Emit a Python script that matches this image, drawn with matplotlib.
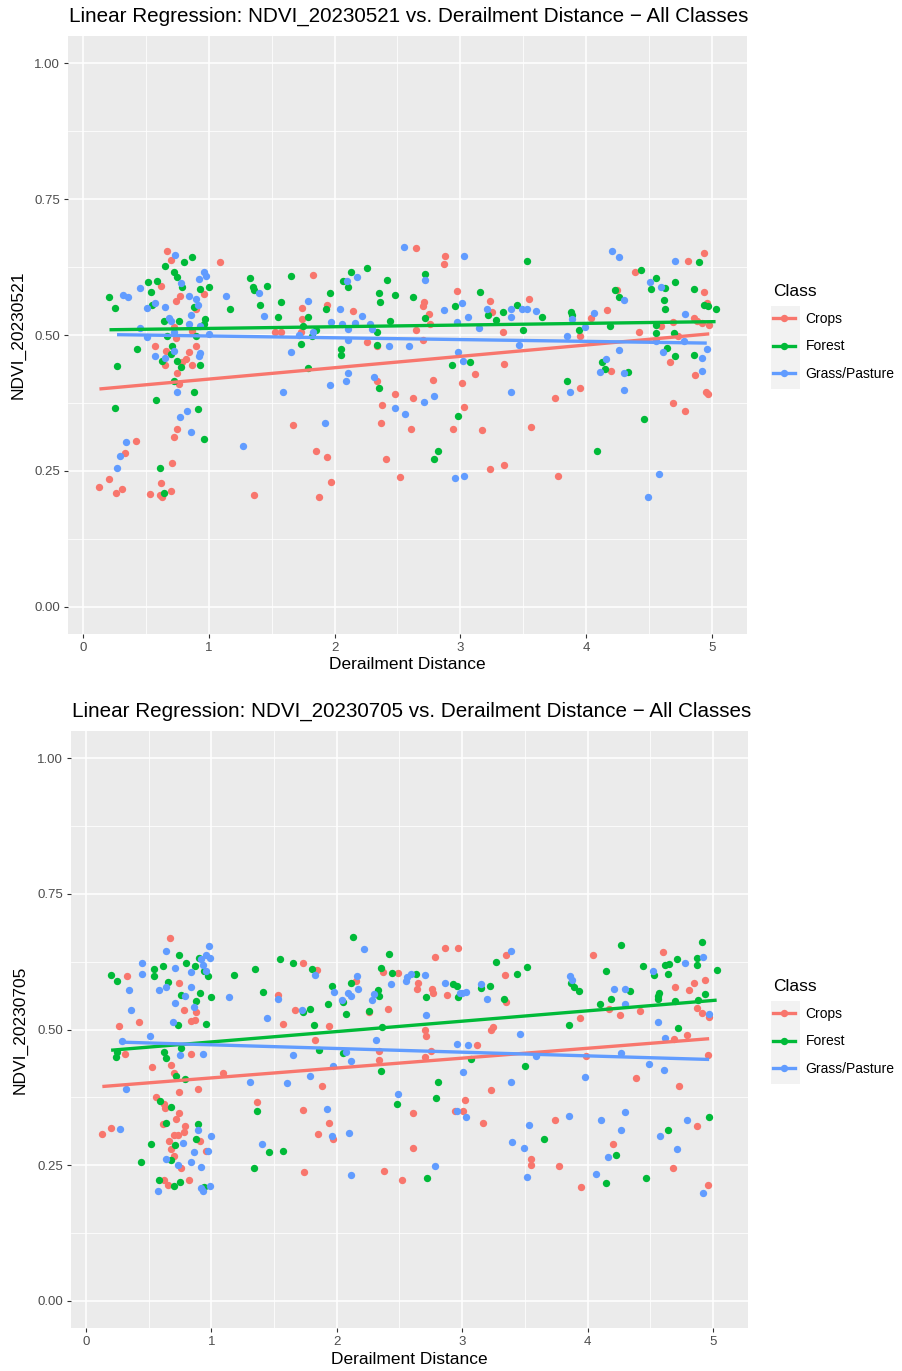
import matplotlib
matplotlib.use("Agg")
import matplotlib.pyplot as plt
import numpy as np
from matplotlib.lines import Line2D
from matplotlib.patches import Rectangle

plt.rcParams["font.family"] = ["Liberation Sans", "DejaVu Sans"]

classes = ["Crops", "Forest", "Grass/Pasture"]
colors = ["#F8766D", "#00BA38", "#619CFF"]

# (distance, NDVI) pairs
crops_0521 = [
    (0.67, 0.655), (0.70, 0.638), (1.09, 0.635), (0.62, 0.591), (0.77, 0.572), (0.74, 0.562),
    (0.96, 0.575), (0.90, 0.548), (0.72, 0.514), (0.87, 0.508), (0.74, 0.494), (0.57, 0.479),
    (0.66, 0.471), (0.84, 0.468), (0.90, 0.479), (0.82, 0.456), (0.65, 0.445), (0.79, 0.451),
    (0.87, 0.445), (0.75, 0.431), (0.76, 0.410), (0.75, 0.327), (0.72, 0.312), (0.42, 0.305),
    (0.33, 0.283), (0.71, 0.265), (0.21, 0.235), (0.13, 0.220), (0.31, 0.216), (0.26, 0.210),
    (0.53, 0.208), (0.62, 0.228), (0.61, 0.205), (0.70, 0.213), (0.63, 0.202),
    (1.83, 0.610), (1.74, 0.550), (1.94, 0.556), (1.74, 0.529), (1.57, 0.505), (1.53, 0.506),
    (1.73, 0.505), (2.15, 0.545), (2.26, 0.487), (2.34, 0.479), (2.34, 0.415), (2.48, 0.391),
    (2.62, 0.384), (2.38, 0.371), (2.37, 0.339), (2.61, 0.328), (1.67, 0.335), (1.85, 0.286),
    (1.94, 0.275), (2.41, 0.271), (1.97, 0.229), (2.52, 0.238), (1.36, 0.206), (1.88, 0.202),
    (2.65, 0.660), (2.88, 0.646), (2.87, 0.631), (2.97, 0.581), (2.71, 0.561), (2.70, 0.554),
    (2.75, 0.538), (2.76, 0.520), (2.65, 0.510), (2.70, 0.491), (3.24, 0.562), (3.25, 0.543),
    (3.55, 0.567), (3.34, 0.506), (3.35, 0.447), (3.12, 0.428), (3.01, 0.412), (2.78, 0.417),
    (3.03, 0.367), (2.94, 0.328), (3.17, 0.326), (3.56, 0.330), (3.75, 0.385), (3.95, 0.403),
    (3.24, 0.254), (3.35, 0.260), (3.78, 0.241), (3.95, 0.499),
    (4.94, 0.651), (4.81, 0.637), (4.39, 0.616), (4.25, 0.583), (4.94, 0.580), (4.17, 0.546),
    (4.04, 0.532), (4.96, 0.558), (4.86, 0.531), (4.88, 0.525), (4.98, 0.519), (4.92, 0.522),
    (4.69, 0.523), (4.60, 0.516), (4.73, 0.498), (4.42, 0.505), (4.67, 0.450), (4.20, 0.434),
    (4.87, 0.426), (4.95, 0.396), (4.97, 0.391), (4.69, 0.374), (4.79, 0.360),
]
forest_0521 = [
    (0.80, 0.635), (0.87, 0.643), (0.65, 0.627), (0.72, 0.615), (0.75, 0.606), (0.52, 0.598),
    (0.59, 0.600), (0.79, 0.589), (1.00, 0.589), (0.93, 0.585), (0.54, 0.580), (0.21, 0.569),
    (0.25, 0.550), (0.55, 0.555), (0.88, 0.551), (1.17, 0.548), (0.97, 0.529), (0.64, 0.525),
    (0.76, 0.525), (0.96, 0.520), (0.67, 0.499), (0.90, 0.498), (0.43, 0.474), (0.71, 0.480),
    (0.70, 0.465), (0.63, 0.453), (0.75, 0.452), (0.78, 0.442), (0.93, 0.445), (0.27, 0.443),
    (0.72, 0.415), (0.88, 0.395), (0.58, 0.380), (0.25, 0.366), (0.91, 0.363), (0.96, 0.309),
    (0.61, 0.256), (0.64, 0.210),
    (1.33, 0.605), (1.35, 0.589), (1.36, 0.583), (1.46, 0.591), (1.65, 0.609), (1.41, 0.555),
    (1.57, 0.561), (1.55, 0.534), (1.79, 0.534), (1.96, 0.578), (1.93, 0.547), (1.75, 0.517),
    (1.85, 0.509), (1.82, 0.498), (1.73, 0.483), (2.07, 0.599), (2.13, 0.615), (2.11, 0.588),
    (2.26, 0.624), (2.42, 0.602), (2.35, 0.577), (2.36, 0.561), (2.48, 0.573), (2.62, 0.569),
    (2.44, 0.525), (2.34, 0.505), (2.34, 0.482), (2.05, 0.475), (2.05, 0.464), (1.79, 0.439),
    (2.35, 0.402),
    (2.72, 0.613), (3.53, 0.636), (3.16, 0.580), (2.96, 0.554), (2.72, 0.532), (3.22, 0.536),
    (3.28, 0.527), (3.34, 0.542), (3.45, 0.556), (3.65, 0.533), (3.50, 0.509), (3.88, 0.542),
    (3.89, 0.537), (3.94, 0.510), (2.93, 0.444), (3.08, 0.450), (2.98, 0.351), (2.82, 0.287),
    (2.79, 0.271), (3.85, 0.415),
    (4.90, 0.635), (4.44, 0.619), (4.56, 0.605), (4.23, 0.583), (4.26, 0.569), (4.52, 0.585),
    (4.63, 0.587), (4.71, 0.597), (4.86, 0.585), (4.62, 0.564), (4.63, 0.547), (4.94, 0.555),
    (4.97, 0.553), (5.03, 0.548), (4.19, 0.517), (4.56, 0.518), (4.56, 0.504), (4.70, 0.504),
    (4.64, 0.476), (4.71, 0.462), (4.86, 0.463), (4.13, 0.450), (4.15, 0.438), (4.33, 0.432),
    (4.46, 0.346), (4.09, 0.287),
]
grass_0521 = [
    (0.73, 0.648), (0.96, 0.615), (0.98, 0.608), (0.92, 0.603), (0.78, 0.596), (0.45, 0.586),
    (0.32, 0.574), (0.36, 0.569), (1.14, 0.572), (0.84, 0.572), (0.90, 0.566), (0.57, 0.558),
    (0.51, 0.550), (0.65, 0.551), (0.91, 0.556), (0.86, 0.537), (0.68, 0.532), (0.70, 0.526),
    (0.84, 0.520), (0.93, 0.516), (0.45, 0.513), (0.72, 0.505), (0.51, 0.497), (1.00, 0.502),
    (0.72, 0.471), (0.57, 0.462), (0.65, 0.458), (0.93, 0.467), (0.92, 0.461), (0.75, 0.395),
    (0.83, 0.360), (0.77, 0.350), (0.86, 0.322), (0.34, 0.303), (0.29, 0.277), (0.27, 0.256),
    (1.40, 0.578), (1.44, 0.535), (1.79, 0.563), (2.10, 0.600), (2.18, 0.607), (2.04, 0.547),
    (2.22, 0.535), (1.97, 0.523), (2.06, 0.520), (2.16, 0.522), (2.28, 0.520), (2.11, 0.511),
    (2.30, 0.511), (1.83, 0.505), (1.72, 0.500), (2.11, 0.491), (1.65, 0.468), (2.43, 0.479),
    (2.59, 0.480), (2.11, 0.430), (2.09, 0.415), (1.96, 0.408), (2.31, 0.423), (1.59, 0.395),
    (2.48, 0.366), (2.56, 0.355), (1.92, 0.338), (1.27, 0.295), (2.55, 0.662),
    (3.03, 0.645), (2.72, 0.602), (3.01, 0.559), (2.87, 0.546), (3.06, 0.533), (3.21, 0.547),
    (3.40, 0.548), (3.40, 0.534), (3.49, 0.547), (3.53, 0.547), (3.60, 0.545), (3.15, 0.513),
    (2.97, 0.523), (3.89, 0.529), (3.99, 0.514), (3.85, 0.498), (3.47, 0.482), (2.98, 0.468),
    (3.02, 0.453), (3.40, 0.396), (2.79, 0.388), (2.71, 0.376), (3.87, 0.396), (2.96, 0.237),
    (3.03, 0.241),
    (4.21, 0.654), (4.26, 0.644), (4.71, 0.637), (4.51, 0.598), (4.60, 0.589), (4.30, 0.564),
    (4.06, 0.541), (4.79, 0.539), (4.78, 0.489), (4.56, 0.489), (4.96, 0.475), (4.26, 0.472),
    (4.61, 0.469), (4.92, 0.457), (4.16, 0.455), (4.11, 0.432), (4.30, 0.430), (4.92, 0.434),
    (4.30, 0.399), (4.58, 0.245), (4.49, 0.202),
]

# (distance, NDVI) pairs
crops_0705 = [
    (0.67, 0.669), (0.33, 0.598), (0.74, 0.585), (0.78, 0.536), (0.88, 0.532), (0.87, 0.518),
    (0.84, 0.516), (0.42, 0.514), (0.26, 0.506), (0.31, 0.454), (0.84, 0.454), (0.53, 0.431),
    (0.68, 0.434), (0.70, 0.419), (1.09, 0.419), (0.89, 0.391), (0.74, 0.384), (0.56, 0.375),
    (0.62, 0.363), (0.63, 0.356), (0.74, 0.346), (0.72, 0.336), (0.61, 0.326), (0.79, 0.322),
    (0.78, 0.311), (0.20, 0.319), (0.13, 0.307), (0.70, 0.305), (0.73, 0.306), (0.91, 0.295),
    (0.66, 0.294), (0.68, 0.280), (0.96, 0.277), (0.70, 0.266), (0.76, 0.245), (0.62, 0.223),
    (0.65, 0.214), (0.82, 0.223),
    (1.73, 0.623), (1.84, 0.610), (2.15, 0.589), (2.37, 0.606), (2.49, 0.605), (1.53, 0.563),
    (1.67, 0.536), (2.41, 0.537), (2.26, 0.532), (1.57, 0.511), (1.94, 0.506), (1.83, 0.481),
    (2.34, 0.461), (2.34, 0.444), (1.88, 0.395), (1.36, 0.366), (1.73, 0.351), (1.94, 0.328),
    (1.85, 0.308), (1.97, 0.298), (2.61, 0.347), (2.61, 0.282), (1.74, 0.238), (2.38, 0.240),
    (2.52, 0.222),
    (2.86, 0.651), (2.97, 0.651), (2.78, 0.634), (3.35, 0.637), (3.34, 0.600), (2.65, 0.586),
    (2.64, 0.574), (2.76, 0.574), (2.77, 0.567), (2.88, 0.563), (3.35, 0.550), (3.25, 0.504),
    (3.23, 0.500), (2.70, 0.499), (2.71, 0.488), (3.12, 0.472), (2.75, 0.460), (2.70, 0.450),
    (3.94, 0.522), (3.23, 0.388), (3.02, 0.370), (2.94, 0.349), (3.01, 0.349), (3.17, 0.327),
    (3.55, 0.261), (3.55, 0.251), (3.77, 0.248), (3.74, 0.333), (3.95, 0.209),
    (4.04, 0.637), (4.60, 0.643), (4.70, 0.578), (4.81, 0.572), (4.85, 0.586), (4.94, 0.592),
    (4.17, 0.537), (4.26, 0.526), (4.42, 0.534), (4.87, 0.539), (4.91, 0.531), (4.97, 0.523),
    (4.69, 0.483), (4.79, 0.489), (3.99, 0.451), (4.96, 0.453), (4.39, 0.411), (4.73, 0.395),
    (4.87, 0.323), (4.20, 0.289), (4.68, 0.245), (4.96, 0.213),
]
forest_0705 = [
    (0.74, 0.637), (0.80, 0.623), (0.90, 0.632), (0.87, 0.617), (0.61, 0.617), (0.54, 0.611),
    (0.54, 0.599), (0.20, 0.601), (0.25, 0.589), (0.65, 0.588), (0.94, 0.607), (0.97, 0.598),
    (1.18, 0.601), (0.91, 0.568), (0.76, 0.563), (1.00, 0.560), (0.88, 0.552), (0.73, 0.508),
    (0.96, 0.511), (0.24, 0.450), (0.25, 0.459), (0.62, 0.459), (0.64, 0.448), (0.76, 0.466),
    (0.72, 0.415), (0.79, 0.409), (0.59, 0.369), (0.68, 0.357), (0.64, 0.328), (0.89, 0.325),
    (0.88, 0.298), (0.71, 0.287), (0.52, 0.289), (0.68, 0.260), (0.44, 0.256), (0.58, 0.223),
    (0.75, 0.219), (0.70, 0.212), (0.94, 0.210),
    (2.13, 0.670), (1.55, 0.629), (1.65, 0.623), (1.80, 0.612), (1.35, 0.612), (2.42, 0.640),
    (2.35, 0.613), (2.44, 0.605), (1.96, 0.580), (2.11, 0.585), (1.41, 0.570), (2.33, 0.572),
    (2.34, 0.562), (1.93, 0.547), (2.05, 0.550), (1.79, 0.537), (1.73, 0.532), (2.26, 0.535),
    (2.07, 0.529), (1.82, 0.509), (2.36, 0.505), (1.86, 0.462), (2.05, 0.456), (2.35, 0.424),
    (1.36, 0.350), (2.48, 0.363), (1.46, 0.275), (1.57, 0.277), (1.34, 0.245),
    (3.27, 0.624), (3.52, 0.616), (3.44, 0.602), (2.63, 0.603), (2.93, 0.583), (2.96, 0.581),
    (2.97, 0.560), (3.15, 0.577), (3.22, 0.580), (3.33, 0.557), (2.71, 0.559), (3.87, 0.586),
    (3.89, 0.578), (3.93, 0.571), (3.85, 0.509), (3.07, 0.445), (3.50, 0.433), (2.81, 0.404),
    (2.79, 0.373), (3.65, 0.298), (2.72, 0.226),
    (4.27, 0.655), (4.91, 0.662), (4.15, 0.608), (4.44, 0.617), (4.53, 0.601), (4.62, 0.618),
    (4.65, 0.621), (4.71, 0.629), (4.87, 0.631), (4.87, 0.619), (4.64, 0.603), (5.03, 0.610),
    (4.34, 0.571), (4.57, 0.567), (4.56, 0.562), (4.56, 0.557), (4.94, 0.566), (4.19, 0.557),
    (4.10, 0.547), (4.70, 0.553), (4.88, 0.554), (4.72, 0.502), (4.97, 0.338), (4.64, 0.315),
    (4.23, 0.268), (4.15, 0.217), (4.47, 0.227),
]
grass_0705 = [
    (0.98, 0.654), (0.64, 0.645), (0.96, 0.637), (0.99, 0.632), (0.92, 0.629), (0.93, 0.618),
    (0.45, 0.623), (0.71, 0.613), (0.84, 0.606), (0.96, 0.607), (0.45, 0.603), (0.34, 0.572),
    (0.58, 0.572), (0.64, 0.578), (0.84, 0.578), (0.79, 0.561), (0.71, 0.548), (0.86, 0.542),
    (1.14, 0.560), (0.36, 0.536), (0.69, 0.513), (0.51, 0.488), (0.29, 0.479), (0.75, 0.453),
    (0.93, 0.455), (0.32, 0.390), (0.27, 0.316), (0.89, 0.315), (1.00, 0.304), (0.77, 0.290),
    (0.86, 0.274), (0.97, 0.276), (0.64, 0.261), (0.73, 0.251), (0.84, 0.256), (0.92, 0.247),
    (0.57, 0.203), (0.92, 0.208), (0.99, 0.212), (0.93, 0.203),
    (2.22, 0.648), (1.83, 0.600), (2.16, 0.599), (1.98, 0.570), (2.17, 0.575), (2.09, 0.567),
    (2.11, 0.562), (2.04, 0.555), (2.30, 0.566), (2.28, 0.555), (2.43, 0.583), (2.55, 0.589),
    (2.56, 0.596), (2.59, 0.602), (1.53, 0.557), (1.72, 0.536), (1.44, 0.522), (2.31, 0.480),
    (1.65, 0.453), (2.07, 0.459), (2.11, 0.442), (1.97, 0.433), (1.79, 0.414), (1.31, 0.403),
    (1.60, 0.401), (2.49, 0.381), (1.92, 0.354), (1.40, 0.289), (1.96, 0.304), (2.10, 0.309),
    (2.11, 0.232),
    (3.39, 0.645), (2.70, 0.600), (2.86, 0.586), (3.15, 0.583), (2.98, 0.568), (3.00, 0.567),
    (3.03, 0.570), (3.20, 0.557), (3.86, 0.598), (3.88, 0.592), (2.71, 0.526), (3.46, 0.491),
    (2.96, 0.473), (3.05, 0.471), (3.59, 0.452), (3.01, 0.422), (3.39, 0.404), (3.98, 0.413),
    (2.96, 0.349), (3.03, 0.338), (3.53, 0.324), (3.85, 0.340), (3.40, 0.292), (3.49, 0.281),
    (2.78, 0.248), (3.52, 0.229),
    (4.92, 0.634), (4.78, 0.623), (4.52, 0.607), (4.21, 0.574), (4.30, 0.574), (4.30, 0.547),
    (4.97, 0.529), (4.56, 0.513), (4.62, 0.485), (4.27, 0.457), (4.49, 0.437), (4.61, 0.425),
    (4.30, 0.348), (4.11, 0.333), (4.27, 0.314), (4.58, 0.304), (4.79, 0.333), (4.71, 0.280),
    (4.16, 0.265), (4.07, 0.233), (4.92, 0.199),
]

# regression lines: (intercept, slope) per class
fit_0521 = [(0.398, 0.0209), (0.509, 0.0031), (0.5015, -0.0033)]
fit_0705 = [(0.3926, 0.0182), (0.458, 0.0191), (0.4786, -0.0068)]

W, H = 903, 1371
fig = plt.figure(figsize=(W / 100, H / 100), dpi=100)


def fx(px):
    return px / W


def fy(py):
    return 1 - py / H


def draw_panel(box, title, ylabel, series, fits, title_y, ylabel_x, xlabel_y, legend_top):
    left, top, right, bottom = box
    ax = fig.add_axes([fx(left), fy(bottom), fx(right) - fx(left), fy(top) - fy(bottom)])
    ax.set_facecolor("#EBEBEB")
    for s in ax.spines.values():
        s.set_visible(False)

    for pts, c in zip(series, colors):
        arr = np.array(pts)
        ax.scatter(arr[:, 0], arr[:, 1], s=28, color=c, linewidths=0, zorder=3)
    for pts, (b0, b1), c in zip(series, fits, colors):
        arr = np.array(pts)
        xs = np.array([arr[:, 0].min(), arr[:, 0].max()])
        ax.plot(xs, b0 + b1 * xs, color=c, lw=2.4, zorder=4, solid_capstyle="butt")

    ax.set_xlim(-0.12, 5.28)
    ax.set_ylim(-0.05, 1.05)
    ax.set_xticks(range(6))
    ax.set_xticks(np.arange(0.5, 5.5, 1.0), minor=True)
    ax.set_yticks([0, 0.25, 0.5, 0.75, 1.0])
    ax.set_yticklabels(["0.00", "0.25", "0.50", "0.75", "1.00"])
    ax.set_yticks(np.arange(0.125, 1.0, 0.25), minor=True)
    ax.grid(which="major", color="white", lw=1.1, zorder=0)
    ax.grid(which="minor", color="white", lw=0.55, zorder=0)
    ax.set_axisbelow(True)
    ax.tick_params(which="major", length=3.2, width=0.8, color="#333333",
                   labelsize=9.5, labelcolor="#4D4D4D", pad=2.5)
    ax.tick_params(which="minor", length=0)

    fig.text(fx(left + 1), fy(title_y), title, fontsize=14.9, ha="left", va="center")
    fig.text(fx(ylabel_x), fy((top + bottom) / 2), ylabel, fontsize=12.5,
             rotation=90, ha="center", va="center")
    fig.text(fx((left + right) / 2), fy(xlabel_y), "Derailment Distance",
             fontsize=12.5, ha="center", va="center")

    # legend keys background
    fig.patches.append(Rectangle((fx(771), fy(legend_top + 105)), fx(29), fy(0) - fy(83),
                                 transform=fig.transFigure, facecolor="#F2F2F2",
                                 edgecolor="none", zorder=0))
    handles = [Line2D([], [], color=c, lw=2.4, marker="o", markersize=5.3,
                      markeredgewidth=0) for c in colors]
    fig.legend(handles, classes, loc="upper left",
               bbox_to_anchor=(fx(773), fy(legend_top)),
               frameon=False, fontsize=10, title="Class", title_fontsize=12.5,
               alignment="left", handlelength=1.55, handletextpad=0.8,
               labelspacing=0.95, borderpad=0, borderaxespad=0)
    return ax


draw_panel((68, 36, 747, 634),
           "Linear Regression: NDVI_20230521 vs. Derailment Distance \u2212 All Classes",
           "NDVI_20230521", [crops_0521, forest_0521, grass_0521], fit_0521,
           16, 18, 665, 284)
draw_panel((71, 731, 748, 1328),
           "Linear Regression: NDVI_20230705 vs. Derailment Distance \u2212 All Classes",
           "NDVI_20230705", [crops_0705, forest_0705, grass_0705], fit_0705,
           711, 20, 1360, 979)

fig.savefig("out.png", dpi=100, facecolor="white")
